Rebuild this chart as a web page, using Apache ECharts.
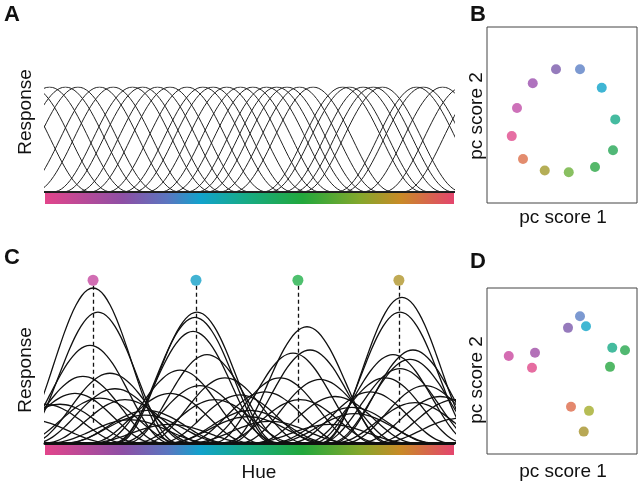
<!DOCTYPE html>
<html><head><meta charset="utf-8">
<script src="https://cdn.jsdelivr.net/npm/echarts@6/dist/echarts.min.js"></script>
<style>html,body{margin:0;padding:0;background:#fff}#c{width:640px;height:483px}</style>
</head><body><div id="c"></div>
<script>
// ---- data ----
// tuning-curve profile (normalised response vs hue offset in degrees)
const profileOffsets = [-75,-70,-65,-60,-55,-50,-45,-40,-35,-30,-25,-20,-15,-10,-5,0,5,10,15,20,25,30,35,40,45,50,55,60,65,70,75];
const profileValues  = [0,0,0.013,0.05,0.109,0.188,0.283,0.388,0.5,0.611,0.717,0.812,0.89,0.95,0.987,1,0.987,0.95,0.89,0.812,0.717,0.611,0.5,0.388,0.283,0.188,0.109,0.05,0.013,0,0];
// panel A: preferred hues (deg) of equal-amplitude curves
const aCenters = [-30,-12,4,18,29,48,60,77,86,99,110,125,139,148,160,172,183,195,204,213,224,236,262,268,280,289,297,327,333,350,368,385];
// panel C: preferred hues (deg) and peak amplitudes
const cCenters = [42.3,46.6,39.6,57.2,33.4,61.6,26.4,48.4,70.4,13.2,133.8,132,130.3,142.6,118.8,158.4,136.4,110,171.6,149.6,230.6,233.3,218.3,206.8,242.1,193.6,255.3,224.5,314.2,312.5,323.9,306.3,321.3,312.5,299.3,334.5,286.1,347.7,325.7,89.8,88,180.4,178.7,270.2,272.9,0,360.9,74.8,198,-13.2,365.3,110,250.9];
const cAmps    = [1,0.845,0.63,0.45,0.43,0.35,0.32,0.29,0.28,0.25,0.845,0.81,0.72,0.57,0.47,0.42,0.37,0.32,0.31,0.28,0.75,0.6,0.58,0.42,0.41,0.33,0.3,0.28,0.94,0.845,0.6,0.57,0.54,0.48,0.42,0.37,0.33,0.3,0.26,0.21,0.18,0.21,0.17,0.23,0.19,0.25,0.28,0.15,0.14,0.15,0.16,0.12,0.12];
// panel C: probe hues with their colours
const probeHues = [42.3,132.9,222.6,311.5];
const probeColors = ['#c548a0','#13a0c8','#22b04a','#b0952a'];
const probeLevel = 1.05;
const probeLineEnd = 0.12;
// colour bar stops
const barStops = [[0,'#e2458b'],[0.19,'#8e4fa5'],[0.30,'#5a76c0'],[0.38,'#12a2cc'],[0.49,'#17ab86'],[0.63,'#22a83c'],[0.77,'#84a72c'],[0.87,'#c98a27'],[1,'#e4456e']];
// PCA scores
const pointColors = ['#c04da8','#9b4fae','#7a5aab','#5b7fc6','#0fa3c9','#17aa88','#26a655','#2aa645','#6cb03a','#a39a2c','#dc6f4a','#e04a8c'];
const bX = [-0.60,-0.39,-0.08,0.24,0.53,0.71,0.68,0.44,0.09,-0.23,-0.52,-0.67];
const bY = [0.08,0.36,0.52,0.52,0.31,-0.05,-0.40,-0.59,-0.65,-0.63,-0.50,-0.24];
const dColors = ['#c9479f','#a04da6','#7c59ab','#5b7fc6','#12a5c8','#17aa86','#26a64e','#27a640','#a4ad2a','#a6922a','#dd6a4a','#e0488a'];
const dX = [-0.71,-0.36,0.08,0.24,0.32,0.67,0.84,0.64,0.36,0.29,0.12,-0.40];
const dY = [0.18,0.22,0.52,0.66,0.54,0.28,0.25,0.05,-0.48,-0.73,-0.43,0.04];

// ---- layout ----
const FONT = '"Liberation Sans", Arial, sans-serif';
const gA = {left:45, top:87, width:409, height:105};
const gC = {left:45, top:272.5, width:409, height:170.5};
const gB = {left:487, top:27, width:150, height:176};
const gD = {left:487, top:288, width:150, height:166};

function curve(c, amp){
  const pts = [[-300,0]];
  profileOffsets.forEach((o,i)=>pts.push([c+o, amp*profileValues[i]]));
  pts.push([660,0]);
  return pts;
}
const series = [];
aCenters.forEach(c=>series.push({type:'line', xAxisIndex:0, yAxisIndex:0, data:curve(c,1), smooth:0.3, symbol:'none', silent:true,
  lineStyle:{color:'#222', width:1}}));
cCenters.forEach((c,i)=>series.push({type:'line', xAxisIndex:1, yAxisIndex:1, data:curve(c,cAmps[i]), smooth:0.3, symbol:'none', silent:true,
  lineStyle:{color:'#111', width:1.3}}));
series.push({type:'scatter', xAxisIndex:1, yAxisIndex:1, symbolSize:11, z:5,
  data: probeHues.map((h,i)=>({value:[h,probeLevel], itemStyle:{color:probeColors[i]}})),
  markLine:{symbol:'none', silent:true, label:{show:false}, lineStyle:{type:[4,3], color:'#111', width:1.3},
    data: probeHues.map(h=>[{coord:[h,probeLevel-0.035]},{coord:[h,probeLineEnd]}])}});
series.push({type:'scatter', xAxisIndex:2, yAxisIndex:2, symbolSize:10,
  data: bX.map((x,i)=>({value:[x,bY[i]], itemStyle:{color:pointColors[i]}}))});
series.push({type:'scatter', xAxisIndex:3, yAxisIndex:3, symbolSize:10,
  data: dX.map((x,i)=>({value:[x,dY[i]], itemStyle:{color:dColors[i]}}))});

const hid = {axisLine:{show:false}, axisTick:{show:false}, axisLabel:{show:false}, splitLine:{show:false}};
const bar = g => ({type:'rect', shape:{x:g.left, y:g.top+g.height+1, width:g.width, height:11}, silent:true,
  style:{fill:new echarts.graphic.LinearGradient(0,0,1,0, barStops.map(s=>({offset:s[0], color:s[1]})))}});
const txt = (t,x,y,size,opt) => Object.assign({type:'text', x, y, silent:true,
  style:{text:t, fontSize:size, fontFamily:FONT, fill:'#111', align:'center', textAlign:'center', verticalAlign:'middle', textVerticalAlign:'middle', fontWeight:(opt&&opt.bold)?'bold':'normal'}},
  (opt&&opt.rot)?{rotation:Math.PI/2}:{});

const chart = echarts.init(document.getElementById('c'), null, {renderer:'canvas'});
chart.setOption({
  animation:false,
  backgroundColor:'#fff',
  grid:[
    Object.assign({show:false}, gA),
    Object.assign({show:false}, gC),
    Object.assign({show:true, borderColor:'#444', borderWidth:1}, gB),
    Object.assign({show:true, borderColor:'#444', borderWidth:1}, gD)
  ],
  xAxis:[
    Object.assign({type:'value', gridIndex:0, min:0, max:360}, hid, {axisLine:{show:true, onZero:false, lineStyle:{color:'#222', width:1.5}}}),
    Object.assign({type:'value', gridIndex:1, min:0, max:360}, hid, {axisLine:{show:true, onZero:false, lineStyle:{color:'#111', width:3}}}),
    Object.assign({type:'value', gridIndex:2, min:-1, max:1}, hid),
    Object.assign({type:'value', gridIndex:3, min:-1, max:1}, hid)
  ],
  yAxis:[
    Object.assign({type:'value', gridIndex:0, min:0, max:1}, hid),
    Object.assign({type:'value', gridIndex:1, min:0, max:1.1}, hid),
    Object.assign({type:'value', gridIndex:2, min:-1, max:1}, hid),
    Object.assign({type:'value', gridIndex:3, min:-1, max:1}, hid)
  ],
  series,
  graphic:[
    bar(gA), bar(gC),
    txt('A', 12, 15, 22, {bold:true}),
    txt('B', 478, 15, 22, {bold:true}),
    txt('C', 12, 258, 22, {bold:true}),
    txt('D', 478, 262, 22, {bold:true}),
    txt('Response', 26, 112, 19, {rot:true}),
    txt('Response', 26, 370, 19, {rot:true}),
    txt('Hue', 259, 473, 19),
    txt('pc score 1', 563, 218, 19),
    txt('pc score 2', 477, 116, 19, {rot:true}),
    txt('pc score 1', 563, 472, 19),
    txt('pc score 2', 477, 380, 19, {rot:true})
  ]
});
</script></body></html>
